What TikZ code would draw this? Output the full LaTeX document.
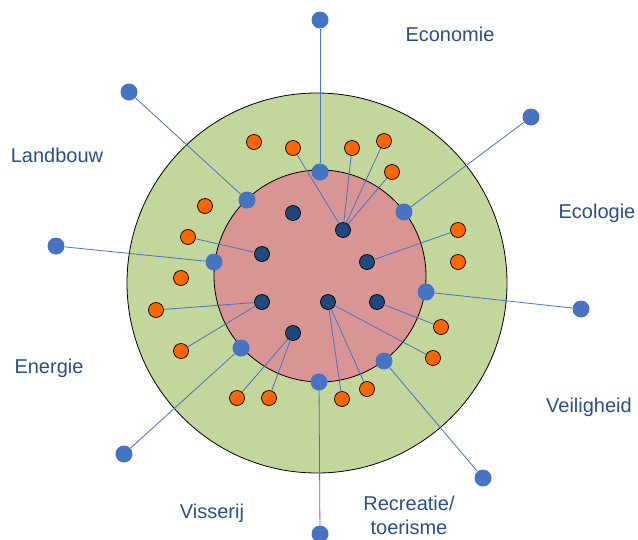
\documentclass[tikz,border=0pt]{standalone}
\usepackage{fontspec}
\setmainfont{Liberation Sans}
\usepackage{tikz}

\definecolor{labelblue}{RGB}{41,78,138}
\definecolor{dotblue}{RGB}{70,116,194}
\definecolor{actornavy}{RGB}{31,73,125}
\definecolor{stakeorange}{RGB}{255,102,0}
\definecolor{ringgreen}{RGB}{195,214,155}
\definecolor{corepink}{RGB}{217,149,148}

\begin{document}
\begin{tikzpicture}[x=1pt,y=-1pt,
  hub/.style={circle,fill=dotblue,minimum size=17pt,inner sep=0pt},
  actor/.style={circle,draw=black,line width=0.7pt,fill=actornavy,minimum size=15pt,inner sep=0pt},
  stake/.style={circle,draw=black,line width=0.7pt,fill=stakeorange,minimum size=15pt,inner sep=0pt},
  link/.style={draw=dotblue,line width=0.8pt},
  sector/.style={font=\fontsize{20}{24}\selectfont,text=labelblue,align=center}]
\useasboundingbox (0,0) rectangle (638,539);

% rings
\filldraw[fill=ringgreen,line width=0.8pt] (317,283) circle (190pt);
\filldraw[fill=corepink,line width=0.8pt] (320,276) circle (106pt);

% hubs on the inner ring and their outer ends
\node[hub] (h1) at (320,172) {};
\node[hub] (h2) at (247,200) {};
\node[hub] (h3) at (214,262) {};
\node[hub] (h4) at (241,348) {};
\node[hub] (h5) at (319,382) {};
\node[hub] (h6) at (384,361) {};
\node[hub] (h7) at (426,292) {};
\node[hub] (h8) at (404,212) {};
\node[hub] (t1) at (320,20) {};
\node[hub] (t2) at (129,92) {};
\node[hub] (t3) at (56,246) {};
\node[hub] (t4) at (124,454) {};
\node[hub] (t5) at (320,534) {};
\node[hub] (t6) at (483,478) {};
\node[hub] (t7) at (581,309) {};
\node[hub] (t8) at (531,117) {};

% actors in the core
\node[actor] (a1) at (293,213) {};
\node[actor] (a2) at (343,230) {};
\node[actor] (a3) at (262,254) {};
\node[actor] (a4) at (367,262) {};
\node[actor] (a5) at (262,302) {};
\node[actor] (a6) at (328,302) {};
\node[actor] (a7) at (377,302) {};
\node[actor] (a8) at (293,333) {};

% stakeholders in the ring
\node[stake] (s1) at (254,142) {};
\node[stake] (s2) at (293,148) {};
\node[stake] (s3) at (352,148) {};
\node[stake] (s4) at (384,141) {};
\node[stake] (s5) at (392,172) {};
\node[stake] (s6) at (205,206) {};
\node[stake] (s7) at (188,237) {};
\node[stake] (s8) at (181,278) {};
\node[stake] (s9) at (156,310) {};
\node[stake] (s10) at (181,351) {};
\node[stake] (s11) at (237,398) {};
\node[stake] (s12) at (269,398) {};
\node[stake] (s13) at (342,399) {};
\node[stake] (s14) at (367,389) {};
\node[stake] (s15) at (433,358) {};
\node[stake] (s16) at (441,327) {};
\node[stake] (s17) at (458,230) {};
\node[stake] (s18) at (458,262) {};

% spokes
\draw[link] (h1) -- (t1);
\draw[link] (h2) -- (t2);
\draw[link] (h3) -- (t3);
\draw[link] (h4) -- (t4);
\draw[link] (h5) -- (t5);
\draw[link] (h6) -- (t6);
\draw[link] (h7) -- (t7);
\draw[link] (h8) -- (t8);

% actor links
\draw[link] (a2) -- (s2);
\draw[link] (a2) -- (s3);
\draw[link] (a2) -- (s4);
\draw[link] (a2) -- (s5);
\draw[link] (a3) -- (s7);
\draw[link] (a4) -- (s17);
\draw[link] (a5) -- (s9);
\draw[link] (a5) -- (s10);
\draw[link] (a6) -- (s13);
\draw[link] (a6) -- (s14);
\draw[link] (a6) -- (s15);
\draw[link] (a7) -- (s16);
\draw[link] (a8) -- (s11);
\draw[link] (a8) -- (s12);

% sectors
\node[sector] (economie) at (450,34) {Economie};
\node[sector] (landbouw) at (57,155) {Landbouw};
\node[sector] (ecologie) at (597,213) {Ecologie};
\node[sector] (energie) at (49,368) {Energie};
\node[sector] (veiligheid) at (589,407) {Veiligheid};
\node[sector] (visserij) at (212,513) {Visserij};
\node[sector] (recreatie) at (409,515) {Recreatie/\\toerisme};
\end{tikzpicture}
\end{document}
